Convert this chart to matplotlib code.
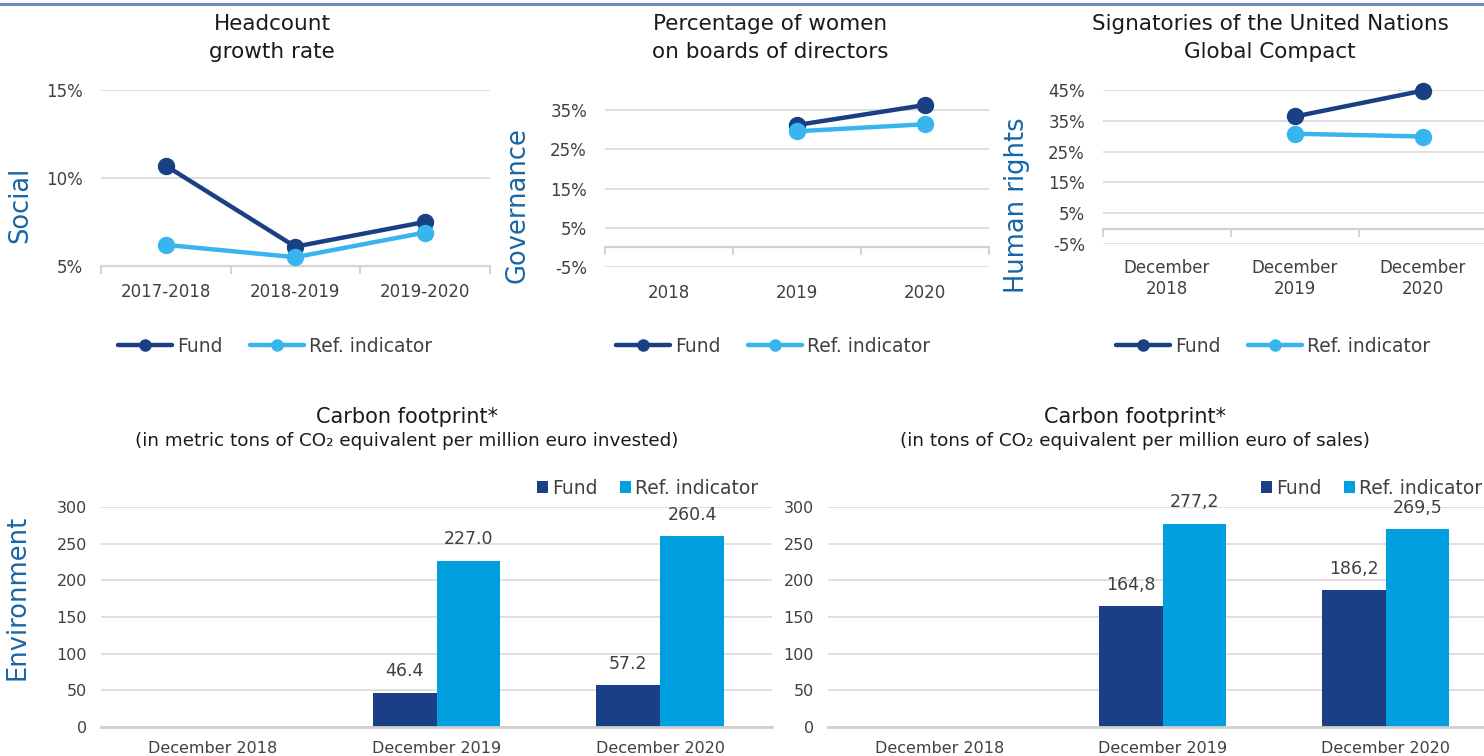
import numpy as np
import matplotlib
matplotlib.use("Agg")
import matplotlib.pyplot as plt

plt.rcParams['font.family'] = ['DejaVu Sans']

# ---------------- data ----------------
series_names = ["Fund", "Ref. indicator"]

hc_cats = ["2017-2018", "2018-2019", "2019-2020"]
hc_fund = [10.7, 6.1, 7.5]
hc_ref = [6.2, 5.5, 6.9]

gov_cats = ["2018", "2019", "2020"]
gov_fund = [np.nan, 31.2, 36.3]
gov_ref = [np.nan, 29.6, 31.4]

hr_cats = ["December\n2018", "December\n2019", "December\n2020"]
hr_fund = [np.nan, 36.4, 44.8]
hr_ref = [np.nan, 30.8, 29.9]

cf_cats = ["December 2018", "December 2019", "December 2020"]
cf_inv_fund = [np.nan, 46.4, 57.2]
cf_inv_ref = [np.nan, 227.0, 260.4]
cf_sales_fund = [np.nan, 164.8, 186.2]
cf_sales_ref = [np.nan, 277.2, 269.5]

# ---------------- style ----------------
W, H = 1484, 756
FUND_LINE = "#1b3f84"
REF_LINE = "#38b5ef"
FUND_BAR = "#1b3f84"
REF_BAR = "#009fe0"
GRID = "#dcdcdc"
AXIS = "#d0d0d0"
TXT = "#404040"
SIDE = "#1766a6"

fig = plt.figure(figsize=(W / 100, H / 100), dpi=100)


def px_axes(left, top, right, bottom):
    return fig.add_axes([left / W, 1 - bottom / H, (right - left) / W, (bottom - top) / H])


def fx(x):
    return x / W


def fy(y):
    return 1 - y / H


# top border line
fig.add_artist(plt.Line2D([0, 1], [fy(3.5), fy(3.5)], color="#6d8db5", lw=2.2,
                          transform=fig.transFigure))


def line_panel(box, cats, fund, ref, ylim, yticks, fmt, zero_at, title, title_x,
               side_label, side_x, xpad):
    ax = px_axes(*box)
    x = np.arange(len(cats))
    ax.set_xlim(-0.5, len(cats) - 0.5)
    ax.set_ylim(*ylim)
    for s in ax.spines.values():
        s.set_visible(False)
    ax.set_yticks(yticks)
    ax.set_yticklabels([fmt(v) for v in yticks])
    ax.yaxis.grid(True, color=GRID, lw=1.3)
    ax.set_axisbelow(True)
    ax.tick_params(axis="y", length=0, pad=13, labelsize=12, labelcolor=TXT)
    ax.set_xticks(x)
    ax.set_xticklabels(cats)
    ax.tick_params(axis="x", length=0, pad=xpad, labelsize=12, labelcolor=TXT)
    loc = (zero_at - ylim[0]) / (ylim[1] - ylim[0])
    sec = ax.secondary_xaxis(loc)
    sec.spines["bottom"].set_color(AXIS)
    sec.spines["bottom"].set_linewidth(1.6)
    sec.set_xticks(np.arange(len(cats) + 1) - 0.5)
    sec.set_xticklabels([])
    sec.tick_params(axis="x", length=6, width=1.3, color=AXIS, direction="out")
    l1, = ax.plot(x, fund, color=FUND_LINE, lw=3.2, marker="o", ms=11.5,
                  solid_capstyle="round", label=series_names[0], clip_on=False, zorder=3)
    l2, = ax.plot(x, ref, color=REF_LINE, lw=3.2, marker="o", ms=11.5,
                  solid_capstyle="round", label=series_names[1], clip_on=False, zorder=3)
    fig.text(fx(title_x), fy(38), title, ha="center", va="center", fontsize=15.5,
             color="#1a1a1a", linespacing=1.45)
    fig.text(fx(side_x), fy(205), side_label, rotation=90, ha="center", va="center",
             fontsize=18.5, color=SIDE)
    leg = fig.legend(handles=[l1, l2], loc="center", bbox_to_anchor=(fx(title_x + 3), fy(346)),
                     ncol=2, frameon=False, fontsize=13.5, handlelength=2.9,
                     handletextpad=0.25, columnspacing=1.45, labelcolor=TXT)
    for h in leg.legend_handles:
        h.set_markersize(8)
    return ax


pct = lambda v: f"{v:g}%"

line_panel((101, 90, 489.5, 266), hc_cats, hc_fund, hc_ref, (5, 15), [5, 10, 15], pct, 5,
           "Headcount\ngrowth rate", 272, "Social", 20, 12)
line_panel((605, 90.5, 989, 267), gov_cats, gov_fund, gov_ref, (-5, 40),
           [-5, 5, 15, 25, 35], pct, 0,
           "Percentage of women\non boards of directors", 770, "Governance", 518, 12)
line_panel((1103, 90, 1487, 244), hr_cats, hr_fund, hr_ref, (-5, 45),
           [-5, 5, 15, 25, 35, 45], pct, 0,
           "Signatories of the United Nations\nGlobal Compact", 1270, "Human rights", 1017, 11)


def bar_panel(box, fund, ref, decimal, title_x, sub, legend_right):
    ax = px_axes(*box)
    x = np.arange(len(cf_cats))
    w = 0.285
    ax.set_xlim(-0.5, len(cf_cats) - 0.5)
    ax.set_ylim(0, 300)
    for s in ["top", "right", "left"]:
        ax.spines[s].set_visible(False)
    ax.spines["bottom"].set_color(AXIS)
    ax.spines["bottom"].set_linewidth(2)
    ax.set_yticks(np.arange(0, 301, 50))
    ax.yaxis.grid(True, color=GRID, lw=1.3)
    ax.set_axisbelow(True)
    ax.tick_params(axis="y", length=0, pad=10, labelsize=11.5, labelcolor=TXT)
    ax.set_xticks(x)
    ax.set_xticklabels(cf_cats)
    ax.tick_params(axis="x", length=0, pad=10, labelsize=11.5, labelcolor=TXT)
    b1 = ax.bar(x - w / 2, fund, w, color=FUND_BAR, label=series_names[0])
    b2 = ax.bar(x + w / 2, ref, w, color=REF_BAR, label=series_names[1])
    for bars, vals in ((b1, fund), (b2, ref)):
        for rect, v in zip(bars, vals):
            if np.isnan(v):
                continue
            s = f"{v:.1f}"
            if decimal == ",":
                s = s.replace(".", ",")
            ax.annotate(s, (rect.get_x() + rect.get_width() / 2, v), xytext=(0, 9),
                        textcoords="offset points", ha="center", va="bottom",
                        fontsize=12.5, color=TXT, annotation_clip=False)
    fig.text(fx(title_x), fy(417), "Carbon footprint*", ha="center", va="center",
             fontsize=15, color="#1a1a1a")
    fig.text(fx(title_x), fy(441), sub, ha="center", va="center", fontsize=13.2,
             color="#1a1a1a")
    fig.legend(handles=[b1, b2], loc="center right",
               bbox_to_anchor=(fx(legend_right), fy(488)), ncol=2, frameon=False,
               fontsize=13.5, handlelength=0.6, handleheight=0.6, handletextpad=0.2,
               columnspacing=1.2, labelcolor=TXT, borderpad=0, borderaxespad=0)
    return ax


bar_panel((101, 507, 772, 727), cf_inv_fund, cf_inv_ref, ".", 407,
          "(in metric tons of CO₂ equivalent per million euro invested)", 758)
bar_panel((828, 507, 1497, 727), cf_sales_fund, cf_sales_ref, ",", 1135,
          "(in tons of CO₂ equivalent per million euro of sales)", 1482)
fig.text(fx(18), fy(597), "Environment", rotation=90, ha="center", va="center",
         fontsize=18.5, color=SIDE)

fig.savefig("out.png", dpi=100)
